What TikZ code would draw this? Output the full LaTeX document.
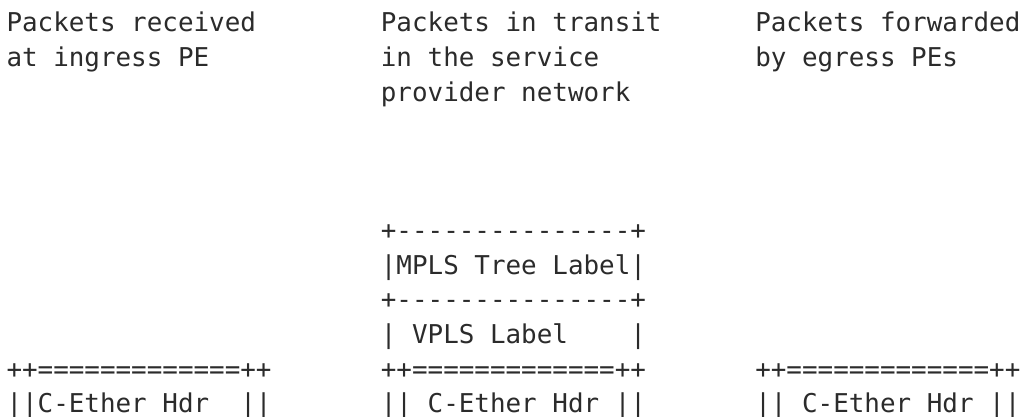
\documentclass[tikz,border=0pt]{standalone}
\usepackage{fontspec}
\newfontfamily\asc{DejaVu Sans Mono}
\definecolor{ink}{HTML}{2B2B2B}
\begin{document}
\begin{tikzpicture}[x=1pt,y=1pt,
  txt/.style={anchor=base west,inner sep=0pt,outer sep=0pt,text=ink,
    font=\asc\fontsize{25.9}{34.6}\selectfont}]
\useasboundingbox[fill=white] (0,0) rectangle (1026,-417);
% columns: 0 -> 6.5, 24 -> 380.9, 48 -> 755.3
% baselines: line n -> -(32 + (n-1)*34.6)
\node[txt] (l1a) at (6.5,-32) {Packets received};
\node[txt] (l1b) at (380.9,-32) {Packets in transit};
\node[txt] (l1c) at (755.3,-32) {Packets forwarded};
\node[txt] (l2a) at (6.5,-66.6) {at ingress PE};
\node[txt] (l2b) at (380.9,-66.6) {in the service};
\node[txt] (l2c) at (755.3,-66.6) {by egress PEs};
\node[txt] (l3b) at (380.9,-101.2) {provider network};
\node[txt] (l7b) at (380.9,-239.6) {+---------------+};
\node[txt] (l8b) at (380.9,-274.2) {|MPLS Tree Label|};
\node[txt] (l9b) at (380.9,-308.8) {+---------------+};
\node[txt] (l10b) at (380.9,-343.4) {|~VPLS~Label~~~~|};
\node[txt] (l11a) at (6.5,-378) {++=============++};
\node[txt] (l11b) at (380.9,-378) {++=============++};
\node[txt] (l11c) at (755.3,-378) {++=============++};
\node[txt] (l12a) at (6.5,-412.6) {||C-Ether~Hdr~~||};
\node[txt] (l12b) at (380.9,-412.6) {||~C-Ether~Hdr~||};
\node[txt] (l12c) at (755.3,-412.6) {||~C-Ether~Hdr~||};
\end{tikzpicture}
\end{document}
